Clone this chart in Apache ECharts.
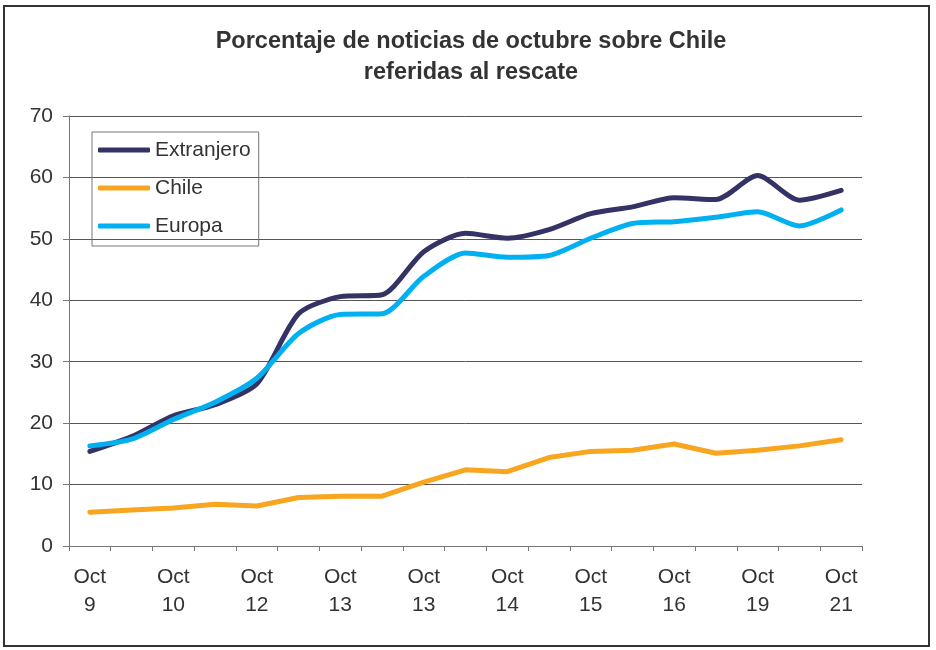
<!DOCTYPE html>
<html>
<head>
<meta charset="utf-8">
<script src="https://cdn.jsdelivr.net/npm/echarts@6/dist/echarts.min.js"></script>
<style>
html,body{margin:0;padding:0;background:#fff;}
#c{width:936px;height:650px;}
</style>
</head>
<body>
<div id="c"></div>
<script>
const categories = ['Oct\n9','','Oct\n10','','Oct\n12','','Oct\n13','','Oct\n13','','Oct\n14','','Oct\n15','','Oct\n16','','Oct\n19','','Oct\n21'];
const extranjero = [15.4, 17.8, 21.2, 23.0, 26.4, 37.8, 40.6, 40.9, 47.9, 50.9, 50.1, 51.5, 54.1, 55.2, 56.7, 56.4, 60.3, 56.3, 57.9];
const chile = [5.5, 5.85, 6.2, 6.8, 6.5, 7.9, 8.1, 8.1, 10.4, 12.4, 12.1, 14.4, 15.4, 15.6, 16.6, 15.1, 15.6, 16.3, 17.3];
const europa = [16.3, 17.4, 20.6, 23.4, 27.3, 34.6, 37.7, 37.8, 43.9, 47.7, 47.0, 47.3, 50.1, 52.5, 52.8, 53.5, 54.4, 52.1, 54.7];
const yTicks = [0, 10, 20, 30, 40, 50, 60, 70];

const chart = echarts.init(document.getElementById('c'), null, {renderer: 'canvas'});
const font = 'Liberation Sans, Arial, sans-serif';
chart.setOption({
  animation: false,
  backgroundColor: '#fff',
  title: {
    text: 'Porcentaje de noticias de octubre sobre Chile\nreferidas al rescate',
    left: 466, top: 21, textAlign: 'center',
    textStyle: {fontFamily: font, fontSize: 23.5, fontWeight: 'bold', color: '#333', lineHeight: 31}
  },
  graphic: [{
    type: 'rect', shape: {x: 4, y: 6, width: 925, height: 640},
    style: {fill: 'none', stroke: '#333', lineWidth: 2}, silent: true
  }],
  legend: {
    orient: 'vertical', left: 92, top: 132,
    padding: [6, 8, 8, 6],
    itemGap: 14, itemWidth: 52, itemHeight: 5,
    icon: 'roundRect',
    borderColor: '#777', borderWidth: 1,
    textStyle: {fontFamily: font, fontSize: 21, color: '#333', lineHeight: 24},
    data: ['Extranjero', 'Chile', 'Europa']
  },
  grid: {left: 69, right: 74, top: 116, bottom: 104, containLabel: false},
  xAxis: {
    type: 'category', data: categories, boundaryGap: true,
    axisLine: {lineStyle: {color: '#777', width: 1}},
    axisTick: {show: true, interval: 0, length: 5, lineStyle: {color: '#777'}},
    axisLabel: {interval: 0, margin: 17, fontFamily: font, fontSize: 21, color: '#333', lineHeight: 28},
    splitLine: {show: false}
  },
  yAxis: {
    type: 'value', min: yTicks[0], max: yTicks[yTicks.length - 1], interval: 10,
    axisLine: {show: true, lineStyle: {color: '#777', width: 1}},
    axisTick: {show: true, length: 6, lineStyle: {color: '#777'}},
    axisLabel: {margin: 16, fontFamily: font, fontSize: 21, color: '#333'},
    splitLine: {lineStyle: {color: '#555', width: 1}}
  },
  series: [
    {name: 'Extranjero', type: 'line', data: extranjero, smooth: 0.25, symbol: 'none',
     lineStyle: {color: '#333366', width: 5, cap: 'round', join: 'round'}, itemStyle: {color: '#333366'}, z: 3},
    {name: 'Chile', type: 'line', data: chile, smooth: false, symbol: 'none',
     lineStyle: {color: '#F8A51F', width: 5, cap: 'round', join: 'round'}, itemStyle: {color: '#F8A51F'}, z: 2},
    {name: 'Europa', type: 'line', data: europa, smooth: 0.25, symbol: 'none',
     lineStyle: {color: '#00B0F0', width: 5, cap: 'round', join: 'round'}, itemStyle: {color: '#00B0F0'}, z: 4}
  ]
});
</script>
</body>
</html>
